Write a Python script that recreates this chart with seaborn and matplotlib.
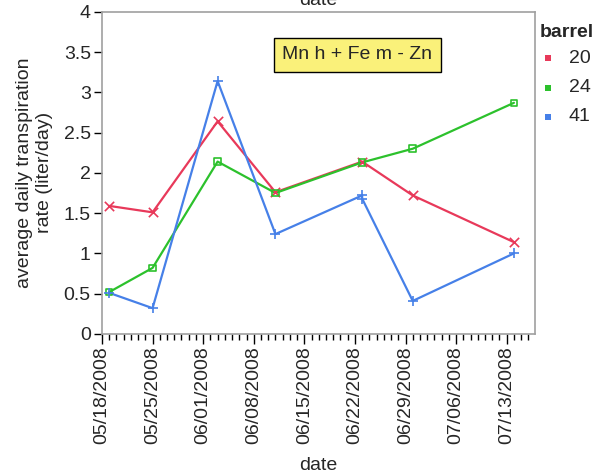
import matplotlib
matplotlib.use("Agg")
import matplotlib.pyplot as plt
import matplotlib.dates as mdates
import seaborn as sns
import pandas as pd
import numpy as np

# data
dates_20 = ["2008-05-19", "2008-05-25", "2008-06-03", "2008-06-11", "2008-06-23", "2008-06-30", "2008-07-14"]
vals_20 = [1.59, 1.51, 2.64, 1.76, 2.14, 1.72, 1.14]
dates_24 = ["2008-05-19", "2008-05-25", "2008-06-03", "2008-06-11", "2008-06-23", "2008-06-30", "2008-07-14"]
vals_24 = [0.52, 0.82, 2.14, 1.75, 2.13, 2.30, 2.87]
dates_41 = ["2008-05-19", "2008-05-25", "2008-06-03", "2008-06-11", "2008-06-23", "2008-06-23", "2008-06-30", "2008-07-14"]
vals_41 = [0.51, 0.32, 3.14, 1.24, 1.72, 1.68, 0.41, 1.00]
barrels = ["20", "24", "41"]
colors = {"20": "#E8395A", "24": "#2CC12C", "41": "#4680E8"}
markers = {"20": "x", "24": "s", "41": "+"}
yticks = [0, 0.5, 1, 1.5, 2, 2.5, 3, 3.5, 4]
ytick_labels = ["0", "0.5", "1", "1.5", "2", "2.5", "3", "3.5", "4"]
annotation = "Mn h + Fe m - Zn"

df = pd.concat([
    pd.DataFrame({"date": pd.to_datetime(dates_20), "rate": vals_20, "barrel": "20"}),
    pd.DataFrame({"date": pd.to_datetime(dates_24), "rate": vals_24, "barrel": "24"}),
    pd.DataFrame({"date": pd.to_datetime(dates_41), "rate": vals_41, "barrel": "41"}),
], ignore_index=True)

sns.set_style("white")
plt.rcParams["font.family"] = ["Liberation Sans", "DejaVu Sans"]
FS = 14

fig = plt.figure(figsize=(6.02, 4.73), dpi=100)
ax = fig.add_axes([0.1694, 0.294, 0.7193, 0.681])

for b in barrels:
    sub = df[df["barrel"] == b]
    sns.lineplot(data=sub, x="date", y="rate", ax=ax, color=colors[b],
                 estimator=None, sort=False, linewidth=1.6, legend=False)
    if markers[b] == "s":
        ax.scatter(sub["date"], sub["rate"], marker="s", facecolors="none",
                   edgecolors=colors[b], s=22, linewidths=1.2, zorder=3)
    else:
        ax.scatter(sub["date"], sub["rate"], marker=markers[b], color=colors[b],
                   s=45, linewidths=1.2, zorder=3)

ax.set_ylim(0, 4)
ax.set_yticks(yticks)
ax.set_yticklabels(ytick_labels, fontsize=FS)
ax.set_xlim(pd.Timestamp("2008-05-18"), pd.Timestamp("2008-07-16 22:00"))
major = pd.date_range("2008-05-18", "2008-07-13", freq="7D")
ax.set_xticks(major)
ax.set_xticklabels([d.strftime("%m/%d/%Y") for d in major], rotation=90, fontsize=FS)
ax.xaxis.set_minor_locator(mdates.DayLocator())
ax.tick_params(axis="x", which="major", direction="out", length=7, width=1, color="black", bottom=True, pad=2)
ax.tick_params(axis="x", which="minor", direction="out", length=4, width=1, color="black", bottom=True)
ax.tick_params(axis="y", which="major", direction="out", length=6, width=1, color="black", left=True, pad=2)

for s in ax.spines.values():
    s.set_color("#a0a0a0")
    s.set_linewidth(1.2)

ax.set_xlabel("date", fontsize=FS, labelpad=9)
ax.set_ylabel("average daily transpiration\nrate (liter/day)", fontsize=FS, labelpad=8)

fig.text(0.529, 0.999, "date", ha="center", va="center", fontsize=FS)

ax.text(0.59, 0.866, annotation, transform=ax.transAxes, ha="center", va="center",
        fontsize=FS,
        bbox=dict(boxstyle="square,pad=0.45", facecolor="#FAF17A", edgecolor="black", linewidth=1))

# legend
fig.text(0.897, 0.932, "barrel", fontsize=FS, fontweight="bold", ha="left", va="center")
for i, b in enumerate(barrels):
    yy = 0.877 - i * 0.062
    fig.patches.append(plt.Rectangle((0.905, yy - 0.007), 0.010, 0.013, transform=fig.transFigure,
                                     facecolor=colors[b], edgecolor="none"))
    fig.text(0.945, yy, b, fontsize=FS, ha="left", va="center")

fig.savefig("out.png", dpi=100)
